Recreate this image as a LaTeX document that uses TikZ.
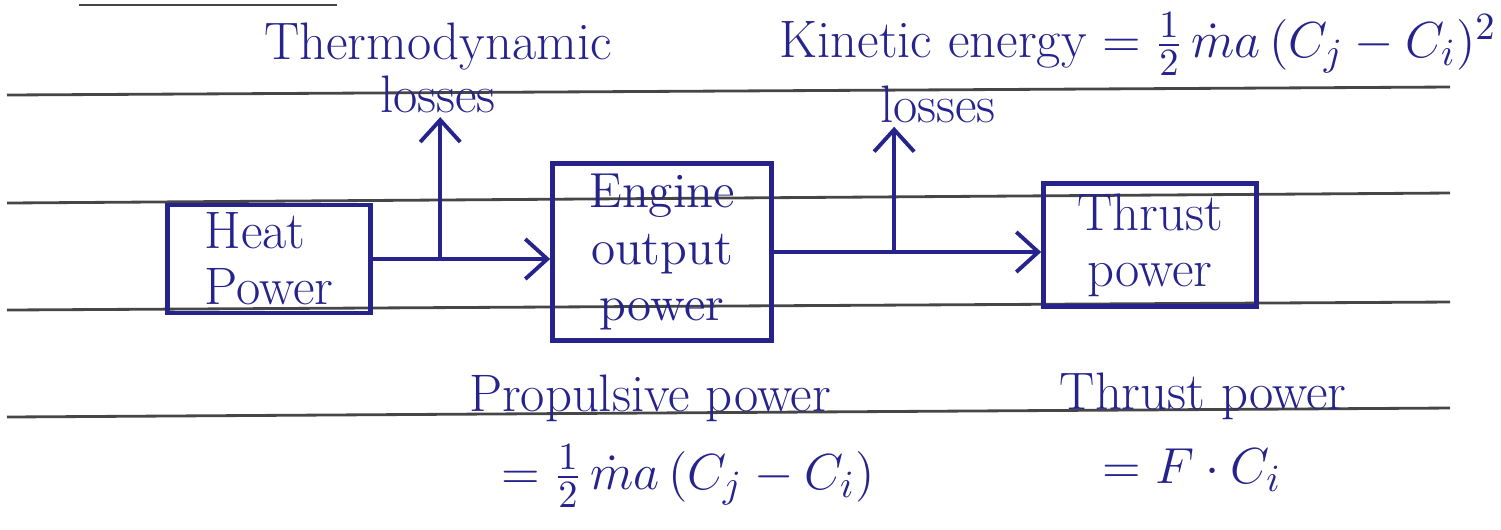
\documentclass[tikz,border=0pt]{standalone}
\usepackage{amsmath}
\usepackage{xcolor}
\usetikzlibrary{arrows.meta}
\definecolor{qink}{RGB}{38,36,140}
\definecolor{qrule}{RGB}{70,70,70}

\tikzset{
  rule/.style={draw=qrule, line width=0.8pt},
  blk/.style={draw=qink, line width=1.3pt, text=qink, inner sep=2pt},
  flow/.style={draw=qink, line width=1.1pt, -{Straight Barb[length=2.2mm,width=4mm]}},
  lbl/.style={text=qink, inner sep=1pt}
}

\begin{document}
\begin{tikzpicture}[x=0.01cm, y=-0.01cm, font=\fontsize{15}{16}\selectfont]%
\useasboundingbox (0,0) rectangle (1501,529);

%ruled paper
\draw[rule] (79,5) -- (337,5);
\foreach \ya/\yb in {95/87, 203/193, 310/302, 417/408}{
  \draw[rule] (7,\ya) -- (1450,\yb);
}

%blocks
\node[blk, minimum width=2.03cm, minimum height=1.08cm, align=left] (heat) at (269,259) {Heat\\Power};
\node[blk, minimum width=2.19cm, minimum height=1.77cm, align=center,
      font=\fontsize{14}{16}\selectfont] (engine) at (662,252) {Engine\\output\\power};
\node[blk, minimum width=2.13cm, minimum height=1.23cm, align=center] (thrust) at (1150,245) {Thrust\\power};

%losses labels
\node[lbl, align=center, font=\fontsize{15}{15}\selectfont] (thermo) at (438,68) {Thermodynamic\\losses};
\node[lbl] (kin) at (1138,44) {Kinetic energy $=\frac{1}{2}\,\dot{m}a\,(C_j-C_i)^2$};
\node[lbl] (klos) at (938,104) {losses};

%power flow
\draw[flow] (heat.east) -- (heat.east -| engine.west) coordinate[pos=0.38] (tloss);
\draw[flow] (tloss) -- (tloss |- thermo.south);
\draw[flow] (engine.east) -- (engine.east -| thrust.west) coordinate[pos=0.45] (kloss);
\draw[flow] (kloss) -- (kloss |- klos.south);

%formulas
\node[lbl] (ppow) at (650,398) {Propulsive power};
\node[lbl] (ppeq) at (688,476) {$=\frac{1}{2}\,\dot{m}a\,(C_j-C_i)$};
\node[lbl] (tpow) at (1203,396) {Thrust power};
\node[lbl] (tpeq) at (1192,470) {$=F\cdot C_i$};

\end{tikzpicture}
\end{document}
